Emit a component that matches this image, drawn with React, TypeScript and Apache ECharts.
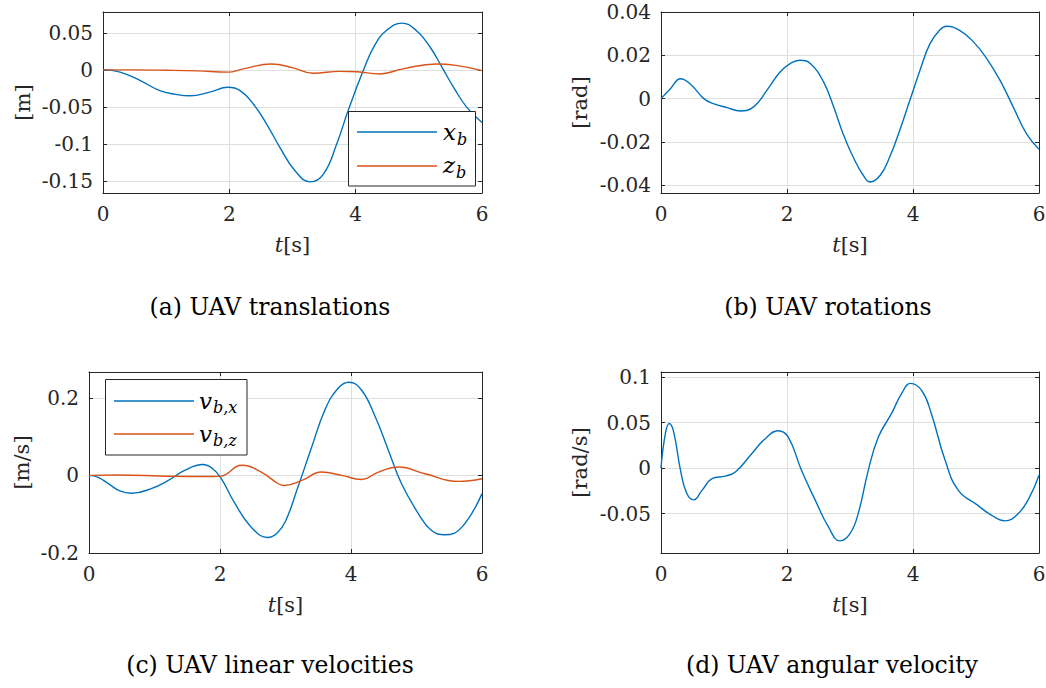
import React, { useEffect, useRef } from "react";
import * as echarts from "echarts";

const FONT = "DejaVu Serif";
const BLUE = "#0072BD";
const ORANGE = "#D95319";
const AXIS = "#262626";
const GRIDC = "#dedede";

// x-axis ticks (time, s)
const xTicks = [0, 2, 4, 6];

// (a) UAV translations
const xbT = [0, 0.27, 0.59, 0.9, 1.15, 1.38, 1.69, 1.98, 2.17, 2.38, 2.59, 2.8, 3.04, 3.28, 3.49, 3.7, 3.88, 4.12, 4.3, 4.5, 4.73, 4.96, 5.18, 5.37, 5.56, 5.76, 6.0];
const xbV = [0, -0.003, -0.0145, -0.028, -0.033, -0.035, -0.03, -0.0235, -0.028, -0.046, -0.073, -0.1045, -0.136, -0.151, -0.1405, -0.1, -0.055, -0.001, 0.033, 0.054, 0.063, 0.053, 0.0305, 0.003, -0.025, -0.0505, -0.071];
const zbT = [0, 0.5, 1.0, 1.5, 1.98, 2.22, 2.67, 3.0, 3.33, 3.75, 4.02, 4.38, 4.75, 5.28, 5.59, 6.0];
const zbV = [0, 0, -0.0005, -0.0014, -0.003, 0.0013, 0.008, 0.003, -0.0046, -0.002, -0.0025, -0.0055, 0.0014, 0.008, 0.006, -0.001];
const aTicks = [-0.15, -0.1, -0.05, 0, 0.05];

// (b) UAV rotations
const rotT = [0, 0.15, 0.31, 0.46, 0.68, 0.83, 1.05, 1.26, 1.47, 1.68, 1.89, 2.05, 2.21, 2.37, 2.58, 2.74, 2.89, 3.05, 3.21, 3.32, 3.48, 3.63, 3.79, 3.95, 4.11, 4.27, 4.43, 4.53, 4.74, 4.96, 5.17, 5.38, 5.59, 5.8, 6.0];
const rotV = [0, 0.0046, 0.0092, 0.0069, 0, -0.0023, -0.0042, -0.0057, -0.0038, 0.0038, 0.0123, 0.0162, 0.0177, 0.0162, 0.0077, -0.0038, -0.0162, -0.027, -0.0354, -0.0385, -0.0354, -0.027, -0.0146, -0.0008, 0.013, 0.0254, 0.0318, 0.0334, 0.0315, 0.0262, 0.0185, 0.0085, -0.0038, -0.0162, -0.0234];
const bTicks = [-0.04, -0.02, 0, 0.02, 0.04];

// (c) UAV linear velocities
const vbxT = [0, 0.14, 0.3, 0.47, 0.65, 0.95, 1.21, 1.46, 1.74, 1.89, 2.02, 2.23, 2.48, 2.73, 2.87, 3.0, 3.19, 3.4, 3.6, 3.8, 3.97, 4.16, 4.37, 4.57, 4.77, 5.03, 5.23, 5.43, 5.69, 6.0];
const vbxV = [0, -0.005, -0.022, -0.04, -0.046, -0.034, -0.013, 0.013, 0.028, 0.017, -0.0085, -0.073, -0.134, -0.16, -0.149, -0.118, -0.03, 0.073, 0.168, 0.224, 0.24, 0.22, 0.151, 0.065, -0.021, -0.099, -0.142, -0.153, -0.134, -0.047];
const vbzT = [0, 0.44, 1.21, 1.9, 2.02, 2.33, 2.63, 2.89, 2.99, 3.25, 3.55, 3.86, 4.16, 4.42, 4.72, 5.13, 5.64, 6.0];
const vbzV = [0, 0.001, -0.002, -0.003, -0.002, 0.026, 0.0086, -0.0215, -0.026, -0.013, 0.0086, 0, -0.0104, 0.0086, 0.0216, 0.0043, -0.0155, -0.0086];
const cTicks = [-0.2, 0, 0.2];

// (d) UAV angular velocity
const omT = [0, 0.07, 0.13, 0.2, 0.31, 0.41, 0.52, 0.65, 0.81, 1.02, 1.18, 1.44, 1.65, 1.86, 2.02, 2.23, 2.45, 2.66, 2.84, 3.0, 3.13, 3.29, 3.45, 3.66, 3.82, 3.96, 4.14, 4.29, 4.51, 4.72, 5.03, 5.25, 5.46, 5.67, 5.85, 6.0];
const omV = [0, 0.038, 0.049, 0.04, -0.0025, -0.028, -0.035, -0.0245, -0.0117, -0.0088, -0.0044, 0.0158, 0.032, 0.041, 0.034, -0.0025, -0.0355, -0.065, -0.08, -0.072, -0.05, -0.0025, 0.034, 0.06, 0.082, 0.093, 0.085, 0.06, 0.0085, -0.0245, -0.041, -0.052, -0.058, -0.05, -0.032, -0.008];
const dTicks = [-0.05, 0, 0.05, 0.1];

const captions = [
  "(a) UAV translations",
  "(b) UAV rotations",
  "(c) UAV linear velocities",
  "(d) UAV angular velocity",
];

const zip = (t: number[], v: number[]) => t.map((x, i) => [x, v[i]]);

type Panel = {
  grid: { left: number; top: number; width: number; height: number };
  yMin: number;
  yMax: number;
  ticks: number[];
  split: number;
  yName: string;
  nameGap: number;
};

const panels: Panel[] = [
  { grid: { left: 103, top: 12, width: 379, height: 181 }, yMin: -0.166, yMax: 0.078, ticks: aTicks, split: 5, yName: "[m]", nameGap: 70 },
  { grid: { left: 661, top: 12, width: 378, height: 181 }, yMin: -0.0436, yMax: 0.04, ticks: bTicks, split: 4, yName: "[rad]", nameGap: 71 },
  { grid: { left: 89, top: 372, width: 393, height: 181 }, yMin: -0.2, yMax: 0.2665, ticks: cTicks, split: 2, yName: "[m/s]", nameGap: 57 },
  { grid: { left: 661, top: 372, width: 378, height: 181 }, yMin: -0.0933, yMax: 0.1055, ticks: dTicks, split: 4, yName: "[rad/s]", nameGap: 71 },
];

export default function App() {
  const ref = useRef<HTMLDivElement>(null);
  useEffect(() => {
    if (!ref.current) return;
    const chart = echarts.init(ref.current, null, { renderer: "svg" });
    const labelStyle = { fontFamily: FONT, fontSize: 20, color: AXIS };
    const grids: any[] = [];
    const xAxes: any[] = [];
    const yAxes: any[] = [];
    const axisLine = { show: true, onZero: false, lineStyle: { color: AXIS, width: 1 } };
    panels.forEach((p, i) => {
      grids.push({ ...p.grid, containLabel: false, outerBoundsMode: "none" });
      xAxes.push({
        type: "value", gridIndex: i, position: "bottom", min: 0, max: 6, interval: 2,
        axisLine,
        axisTick: { inside: true, length: 4, lineStyle: { color: AXIS } },
        axisLabel: { ...labelStyle, margin: 11, customValues: xTicks },
        splitLine: { show: true, lineStyle: { color: GRIDC, width: 1 } },
        name: "{i|t}[s]", nameLocation: "middle", nameGap: 41,
        nameTextStyle: { fontFamily: FONT, fontSize: 21, color: AXIS, rich: { i: { fontFamily: FONT, fontSize: 21, fontStyle: "italic", color: AXIS } } },
      });
      xAxes.push({
        type: "value", gridIndex: i, position: "top", min: 0, max: 6, interval: 2,
        axisLine,
        axisTick: { inside: true, length: 4, lineStyle: { color: AXIS } },
        axisLabel: { show: false },
        splitLine: { show: false },
      });
      yAxes.push({
        type: "value", gridIndex: i, position: "left", min: p.yMin, max: p.yMax, splitNumber: p.split,
        axisLine,
        axisTick: { show: true, inside: true, length: 4, lineStyle: { color: AXIS }, customValues: p.ticks },
        axisLabel: { ...labelStyle, margin: 10, customValues: p.ticks },
        splitLine: { show: true, lineStyle: { color: GRIDC, width: 1 } },
        name: p.yName, nameLocation: "middle", nameGap: p.nameGap, nameRotate: 90,
        nameTextStyle: { fontFamily: FONT, fontSize: 21, color: AXIS },
      });
      yAxes.push({
        type: "value", gridIndex: i, position: "right", min: p.yMin, max: p.yMax, splitNumber: p.split,
        axisLine,
        axisTick: { show: true, inside: true, length: 4, lineStyle: { color: AXIS }, customValues: p.ticks },
        axisLabel: { show: false },
        splitLine: { show: false },
      });
    });

    const line = (name: string, data: number[][], color: string, idx: number) => ({
      name, type: "line", data, xAxisIndex: idx * 2, yAxisIndex: idx * 2,
      symbol: "none", smooth: 0.45, clip: true,
      lineStyle: { color, width: 1.4 }, itemStyle: { color }, z: 3,
    });

    const series = [
      line("x_b", zip(xbT, xbV), BLUE, 0),
      line("z_b", zip(zbT, zbV), ORANGE, 0),
      line("rot", zip(rotT, rotV), BLUE, 1),
      line("v_bx", zip(vbxT, vbxV), BLUE, 2),
      line("v_bz", zip(vbzT, vbzV), ORANGE, 2),
      line("omega", zip(omT, omV), BLUE, 3),
    ];

    const txt = (x: number, y: number, text: string, size: number, italic = false, align = "left") => ({
      type: "text", x, y, z: 100,
      style: { text, fontFamily: FONT, fontSize: size, fontStyle: italic ? "italic" : "normal", fill: "#000", align, verticalAlign: "middle" },
    });

    const legendA = {
      type: "group", z: 100,
      children: [
        { type: "rect", z: 100, shape: { x: 348.5, y: 111.5, width: 127, height: 74.5 }, style: { fill: "#fff", stroke: AXIS, lineWidth: 1 } },
        { type: "line", z: 101, shape: { x1: 357, y1: 132, x2: 437, y2: 132 }, style: { stroke: BLUE, lineWidth: 1.4 } },
        { type: "line", z: 101, shape: { x1: 357, y1: 166, x2: 437, y2: 166 }, style: { stroke: ORANGE, lineWidth: 1.4 } },
        { ...txt(443, 132, "x", 23, true), z: 101 },
        { ...txt(457, 139, "b", 16, true), z: 101 },
        { ...txt(443, 165, "z", 23, true), z: 101 },
        { ...txt(456, 172, "b", 16, true), z: 101 },
      ],
    };
    const legendC = {
      type: "group", z: 100,
      children: [
        { type: "rect", z: 100, shape: { x: 105.5, y: 379.5, width: 141.5, height: 75.5 }, style: { fill: "#fff", stroke: AXIS, lineWidth: 1 } },
        { type: "line", z: 101, shape: { x1: 114, y1: 401, x2: 194, y2: 401 }, style: { stroke: BLUE, lineWidth: 1.4 } },
        { type: "line", z: 101, shape: { x1: 114, y1: 434, x2: 194, y2: 434 }, style: { stroke: ORANGE, lineWidth: 1.4 } },
        { ...txt(199, 401, "v", 23, true), z: 101 },
        { ...txt(213, 407, "b,x", 16, true), z: 101 },
        { ...txt(199, 434, "v", 23, true), z: 101 },
        { ...txt(213, 440, "b,z", 16, true), z: 101 },
      ],
    };

    const capPos = [
      [270, 307],
      [828, 307],
      [270, 665],
      [832, 665],
    ];
    const caps = captions.map((c, i) => txt(capPos[i][0], capPos[i][1], c, 23.5, false, "center"));

    chart.setOption({
      animation: false,
      backgroundColor: "#fff",
      grid: grids,
      xAxis: xAxes,
      yAxis: yAxes,
      series,
      graphic: [legendA, legendC, ...caps],
    });
    return () => chart.dispose();
  }, []);
  return (
    <div
      ref={ref}
      style={{ position: "absolute", left: 0, top: 0, width: 1046, height: 688, background: "#fff" }}
    />
  );
}
